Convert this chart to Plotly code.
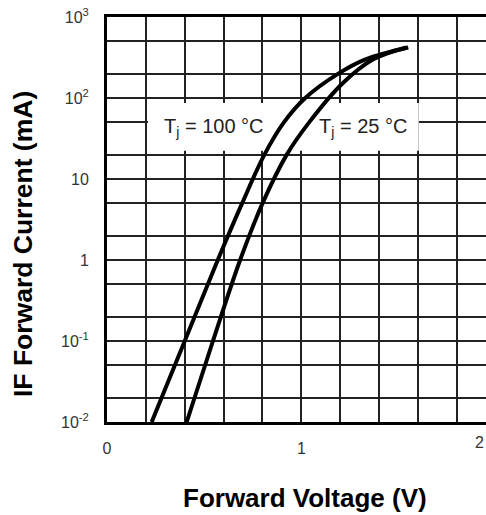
import math
import plotly.graph_objects as go

# Data (forward voltage V, forward current mA)
v_100 = [0.23, 0.40, 0.57, 0.695, 0.81, 0.91, 1.02, 1.19, 1.33, 1.55]
i_100 = [0.01, 0.1, 1, 5, 20, 50, 100, 200, 300, 420]

v_25 = [0.41, 0.545, 0.685, 0.80, 0.925, 1.04, 1.21, 1.37, 1.54]
i_25 = [0.01, 0.1, 1, 5, 20, 50, 150, 300, 420]

x_grid = [0, 0.2, 0.4, 0.6, 0.8, 1.0, 1.2, 1.4, 1.6, 1.8]
x_text = ["0", "", "", "", "", "1", "", "", "", ""]

y_grid = [0.01, 0.02, 0.05, 0.1, 0.2, 0.5, 1, 2, 5, 10, 20, 50, 100, 200, 500, 1000]
y_text = ["10<sup>-2</sup>", "", "", "10<sup>-1</sup>", "", "", "1", "", "", "10", "", "",
          "10<sup>2</sup>", "", "", "10<sup>3</sup>"]

labels = ["T<sub>j</sub> = 100 °C", "T<sub>j</sub> = 25 °C"]
label_x = [0.553, 1.319]
label_i = [42.7, 42.7]   # current (mA) at label centre

FONT = "Arial, Liberation Sans, sans-serif"

fig = go.Figure()
for v, i in [(v_100, i_100), (v_25, i_25)]:
    fig.add_trace(go.Scatter(x=v, y=i, mode="lines",
                             line=dict(color="black", width=4, shape="spline", smoothing=1),
                             showlegend=False, hoverinfo="skip"))

# white panel behind the labels: hides grid lines, curves stay on top
fig.add_shape(type="rect", xref="x", yref="y", x0=0.211, x1=1.604, y0=22.4, y1=86.8,
              fillcolor="white", line=dict(width=0), layer="between")

annotations = [
    dict(x=lx, y=math.log10(li), xref="x", yref="y", text=t, showarrow=False,
         xanchor="center", yanchor="middle",
         font=dict(size=20, color="#222", family=FONT))
    for t, lx, li in zip(labels, label_x, label_i)
]
annotations += [
    dict(x=0.984, y=0, xref="paper", yref="paper", xanchor="center", yanchor="top", yshift=-10,
         text="2", showarrow=False, font=dict(size=16, color="#333", family=FONT)),
    dict(x=-0.2216, y=0.4395, xref="paper", yref="paper", xanchor="center", yanchor="middle",
         text="<b>IF Forward Current (mA)</b>", textangle=-90, showarrow=False,
         font=dict(size=26.5, color="black", family=FONT)),
    dict(x=0.522, y=-0.1877, xref="paper", yref="paper", xanchor="center", yanchor="middle",
         text="<b>Forward Voltage (V)</b>", showarrow=False,
         font=dict(size=26, color="black", family=FONT)),
]

fig.update_layout(
    width=486, height=515,
    margin=dict(l=107, r=0, t=17, b=93),
    paper_bgcolor="white", plot_bgcolor="white",
    font=dict(family=FONT, color="#222", size=16),
    xaxis=dict(range=[0, 1.95], tickmode="array", tickvals=x_grid, ticktext=x_text,
               showgrid=True, gridcolor="#222", gridwidth=1.5, zeroline=False,
               showline=True, linecolor="black", linewidth=3, mirror=True, automargin=False,
               ticks="", ticklabelstandoff=10, tickfont=dict(size=16, color="#333")),
    yaxis=dict(type="log", range=[-2, 3], tickmode="array", tickvals=y_grid, ticktext=y_text,
               showgrid=True, gridcolor="#222", gridwidth=1.5, zeroline=False,
               showline=True, linecolor="black", linewidth=3, mirror=False, automargin=False,
               ticks="", ticklabelstandoff=12, tickfont=dict(size=16, color="#333")),
    annotations=annotations,
)

fig.write_html("out.html", config={"displayModeBar": False},
               post_script="document.body.style.margin='0';document.body.style.overflow='hidden';")
